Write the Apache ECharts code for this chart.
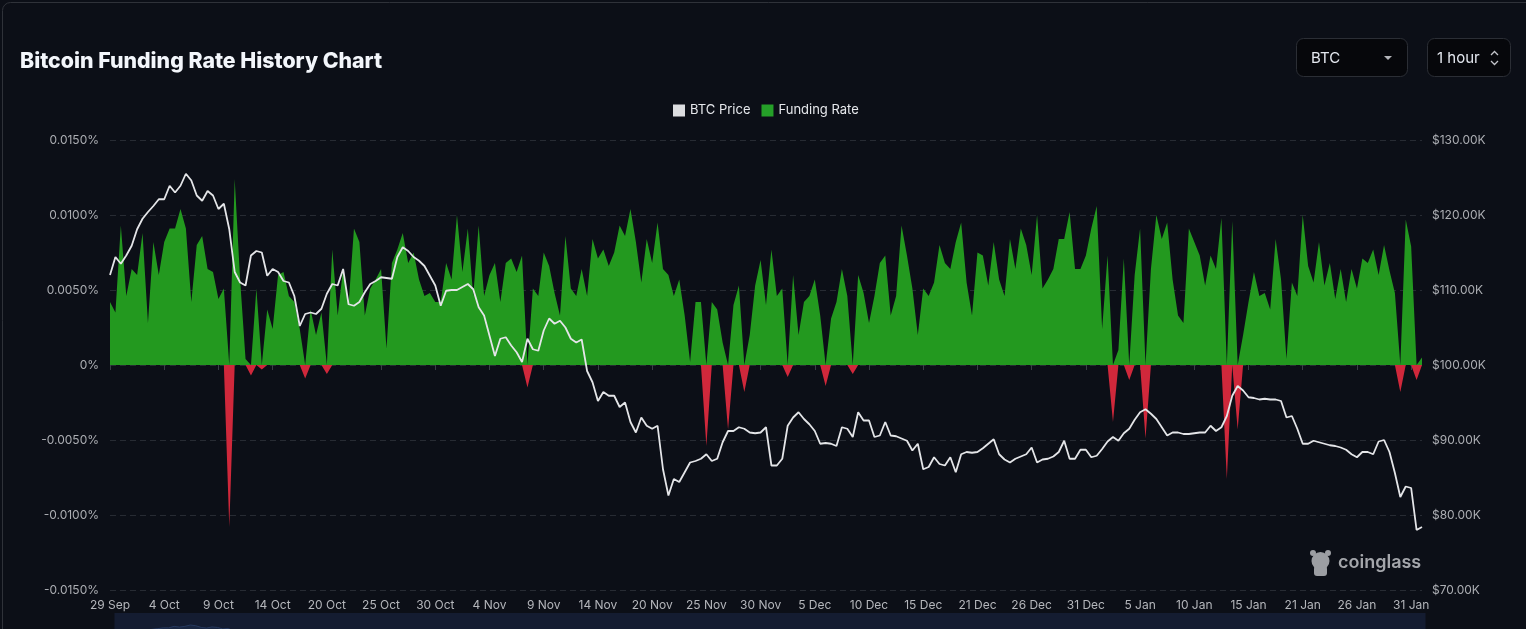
<!DOCTYPE html>
<html>
<head>
<meta charset="utf-8">
<title>Bitcoin Funding Rate History Chart</title>
<script src="https://cdn.jsdelivr.net/npm/echarts@6.0.0/dist/echarts.min.js"></script>
<style>
  html, body { margin: 0; padding: 0; background: #0c0f17; }
  #chart { width: 1526px; height: 629px; }
</style>
</head>
<body>
<div id="chart"></div>
<script>
// 29 Sep 08:00 onward, one point every 12.4 hours
const startTime = Date.UTC(2025, 8, 29, 8);
const stepHours = 12.4;

const tickLabels = ['29 Sep', '4 Oct', '9 Oct', '14 Oct', '20 Oct', '25 Oct', '30 Oct', '4 Nov', '9 Nov',
  '14 Nov', '20 Nov', '25 Nov', '30 Nov', '5 Dec', '10 Dec', '15 Dec', '21 Dec', '26 Dec', '31 Dec',
  '5 Jan', '10 Jan', '15 Jan', '21 Jan', '26 Jan', '31 Jan'];

// BTC price, thousands of USD
const priceK = [
  112.0, 114.4, 113.5, 114.6, 115.9, 118.1, 119.5, 120.4, 121.2, 122.1,
  122.1, 123.9, 123.0, 123.9, 125.5, 124.6, 122.6, 121.9, 123.2, 122.6,
  120.8, 121.5, 118.1, 112.4, 111.0, 110.6, 114.6, 115.2, 115.0, 111.9,
  112.8, 112.4, 111.2, 111.0, 109.2, 105.2, 106.8, 107.0, 106.8, 107.5,
  109.5, 110.8, 110.6, 112.8, 108.1, 107.9, 108.4, 109.7, 110.8, 111.2,
  111.7, 111.6, 111.5, 114.4, 115.7, 115.2, 114.4, 113.9, 113.2, 111.9,
  110.6, 107.9, 109.9, 110.0, 110.0, 110.4, 110.8, 110.1, 107.7, 106.6,
  103.9, 101.2, 103.5, 103.7, 102.6, 101.7, 100.4, 103.5, 102.1, 101.9,
  104.6, 106.2, 105.5, 105.9, 105.0, 103.5, 103.0, 103.4, 99.2, 97.7,
  95.2, 96.4, 95.9, 95.9, 94.4, 95.0, 92.4, 91.0, 93.0, 91.9,
  91.5, 91.9, 86.1, 82.6, 84.8, 84.4, 85.7, 87.0, 87.2, 87.5,
  88.1, 87.2, 87.5, 89.7, 91.2, 91.2, 91.7, 91.5, 91.0, 90.9,
  91.0, 91.7, 86.6, 86.6, 87.5, 91.9, 93.0, 93.7, 92.8, 92.1,
  91.2, 89.5, 89.6, 89.5, 89.2, 91.7, 91.5, 90.4, 93.7, 92.6,
  92.6, 90.4, 90.6, 92.4, 90.6, 90.5, 90.2, 89.9, 88.6, 89.5,
  86.1, 86.4, 87.7, 86.8, 86.6, 87.7, 85.7, 88.1, 88.4, 88.3,
  88.4, 88.9, 89.5, 90.1, 88.1, 87.4, 87.0, 87.5, 87.8, 88.1,
  89.0, 87.0, 87.4, 87.5, 87.8, 88.4, 89.9, 87.5, 87.5, 88.7,
  88.7, 87.7, 87.9, 88.8, 89.8, 90.4, 89.9, 90.9, 91.5, 92.7,
  93.7, 94.1, 93.5, 92.8, 91.7, 90.6, 91.0, 91.0, 90.8, 90.8,
  90.9, 91.0, 91.0, 91.9, 91.2, 91.7, 93.2, 95.9, 97.2, 96.6,
  95.7, 95.6, 95.4, 95.5, 95.4, 95.4, 95.2, 93.0, 93.2, 91.5,
  89.5, 89.5, 89.9, 89.7, 89.5, 89.3, 89.2, 89.0, 88.7, 88.1,
  87.7, 88.4, 88.4, 88.1, 89.8, 90.0, 88.4, 85.6, 82.4, 83.8,
  83.6, 78.0, 78.4
];

// funding rate, percent
const fundingRate = [
  0.0042, 0.0035, 0.0093, 0.0046, 0.0064, 0.0060, 0.0088, 0.0028, 0.0082, 0.0060,
  0.0082, 0.0091, 0.0091, 0.0104, 0.0091, 0.0042, 0.0080, 0.0086, 0.0064, 0.0062,
  0.0044, 0.0051, -0.0108, 0.0124, 0.0057, 0.0004, -0.0007, 0.0051, -0.0003, 0.0037,
  0.0024, 0.0060, 0.0062, 0.0046, 0.0042, 0.0024, -0.0009, 0.0037, 0.0020, 0.0035,
  -0.0006, 0.0077, 0.0033, 0.0064, 0.0040, 0.0091, 0.0082, 0.0033, 0.0051, 0.0057,
  0.0064, 0.0011, 0.0068, 0.0077, 0.0088, 0.0068, 0.0075, 0.0057, 0.0046, 0.0048,
  0.0042, 0.0042, 0.0068, 0.0057, 0.0100, 0.0062, 0.0091, 0.0046, 0.0093, 0.0046,
  0.0060, 0.0068, 0.0042, 0.0068, 0.0071, 0.0062, 0.0073, -0.0015, 0.0051, 0.0046,
  0.0075, 0.0066, 0.0048, 0.0033, 0.0086, 0.0051, 0.0046, 0.0064, 0.0046, 0.0084,
  0.0071, 0.0077, 0.0066, 0.0075, 0.0093, 0.0086, 0.0104, 0.0082, 0.0055, 0.0084,
  0.0068, 0.0095, 0.0064, 0.0060, 0.0046, 0.0057, 0.0033, 0.0002, 0.0042, 0.0042,
  -0.0054, 0.0042, 0.0037, 0.0015, -0.0043, 0.0040, 0.0053, -0.0018, 0.0020, 0.0053,
  0.0070, 0.0040, 0.0077, 0.0046, 0.0051, -0.0008, 0.0060, 0.0020, 0.0042, 0.0046,
  0.0057, 0.0033, -0.0014, 0.0031, 0.0042, 0.0064, 0.0046, -0.0006, 0.0060, 0.0048,
  0.0028, 0.0046, 0.0068, 0.0073, 0.0033, 0.0046, 0.0093, 0.0073, 0.0051, 0.0020,
  0.0051, 0.0046, 0.0055, 0.0080, 0.0068, 0.0064, 0.0082, 0.0095, 0.0055, 0.0033,
  0.0075, 0.0073, 0.0053, 0.0082, 0.0057, 0.0046, 0.0084, 0.0064, 0.0091, 0.0080,
  0.0060, 0.0100, 0.0051, 0.0057, 0.0064, 0.0084, 0.0084, 0.0102, 0.0064, 0.0064,
  0.0073, 0.0091, 0.0106, 0.0024, 0.0073, -0.0038, 0.0010, 0.0071, -0.0010, 0.0060,
  0.0091, -0.0049, 0.0064, 0.0100, 0.0084, 0.0095, 0.0057, 0.0033, 0.0028, 0.0091,
  0.0082, 0.0073, 0.0053, 0.0073, 0.0064, 0.0098, -0.0076, 0.0096, -0.0043, 0.0020,
  0.0042, 0.0062, 0.0046, 0.0048, 0.0037, 0.0084, 0.0057, 0.0004, 0.0055, 0.0046,
  0.0100, 0.0066, 0.0055, 0.0082, 0.0053, 0.0068, 0.0044, 0.0064, 0.0042, 0.0064,
  0.0051, 0.0071, 0.0068, 0.0077, 0.0060, 0.0080, 0.0063, 0.0048, -0.0018, 0.0097,
  0.0079, -0.0010, 0.0005
];

const categories = priceK.map(function (_, i) {
  return new Date(startTime + i * stepHours * 3600 * 1000).toISOString().slice(0, 13);
});

// positive part drawn green, negative part red
const fundingUp = fundingRate.map(function (v) { return v > 0 ? v : 0; });
const fundingDown = fundingRate.map(function (v) { return v < 0 ? v : 0; });

const labelColor = '#acaeb3';
const fontFamily = 'Inter, "Noto Sans", sans-serif';
const green = '#23991f';
const red = '#d0283b';

let option = {
  backgroundColor: '#0c0f17',
  animation: false,
  textStyle: { fontFamily: fontFamily },
  title: {
    text: 'Bitcoin Funding Rate History Chart',
    left: 15,
    top: 46,
    textStyle: { color: '#f3f6fb', fontSize: 21.3, fontWeight: 800, fontFamily: fontFamily }
  },
  legend: {
    top: 99,
    left: 668,
    icon: 'rect',
    itemWidth: 12,
    itemHeight: 12,
    itemGap: 11,
    textStyle: { color: '#e6e8ec', fontSize: 13 },
    data: [
      { name: 'BTC Price', itemStyle: { color: '#dcdde0' } },
      { name: 'Funding Rate', itemStyle: { color: '#25a028' } }
    ]
  },
  grid: {
    left: 110,
    right: 104,
    top: 140,
    bottom: 39
  },
  xAxis: [
    {
      type: 'category',
      data: categories,
      boundaryGap: false,
      axisLine: { show: false, onZero: false },
      axisTick: { show: false },
      splitLine: { show: false },
      axisLabel: {
        interval: 9,
        margin: 9,
        color: '#b4b6bb',
        fontSize: 12,
        formatter: function (value, index) {
          return tickLabels[index / 10] || '';
        }
      }
    },
    {
      // ticks sitting on the zero line
      type: 'category',
      data: categories,
      position: 'bottom',
      boundaryGap: false,
      axisLine: { show: false, onZero: true },
      axisTick: { show: true, interval: 9, length: 5, lineStyle: { color: '#3a3e46' } },
      axisLabel: { show: false },
      splitLine: { show: false }
    }
  ],
  yAxis: [
    {
      type: 'value',
      min: -0.015,
      max: 0.015,
      interval: 0.005,
      axisLine: { show: false },
      axisTick: { show: false },
      splitLine: { lineStyle: { color: '#272b33', type: [6, 4] } },
      axisLabel: {
        color: labelColor,
        fontSize: 12,
        margin: 11,
        formatter: function (v) {
          return Math.abs(v) < 1e-9 ? '0%' : v.toFixed(4) + '%';
        }
      }
    },
    {
      type: 'value',
      position: 'right',
      min: 70,
      max: 130,
      interval: 10,
      axisLine: { show: false },
      axisTick: { show: false },
      splitLine: { show: false },
      axisLabel: {
        color: labelColor,
        fontSize: 12,
        margin: 10,
        formatter: function (v) {
          return '$' + v.toFixed(2) + 'K';
        }
      }
    }
  ],
  dataZoom: [
    {
      type: 'slider',
      xAxisIndex: 0,
      start: 0,
      end: 100,
      left: 112,
      right: 103,
      top: 613,
      height: 64,
      showDetail: false,
      brushSelect: false,
      moveHandleSize: 0,
      handleSize: 0,
      handleStyle: { opacity: 0 },
      borderColor: 'transparent',
      backgroundColor: '#0f1523',
      fillerColor: 'rgba(24, 34, 58, 0.6)',
      dataBackground: {
        lineStyle: { color: '#3b5a92', width: 1 },
        areaStyle: { color: '#1d2d4c', opacity: 1 }
      },
      selectedDataBackground: {
        lineStyle: { color: '#3b5a92', width: 1 },
        areaStyle: { color: '#1d2d4c', opacity: 1 }
      }
    }
  ],
  graphic: [
    {
      type: 'rect',
      shape: { x: 2.5, y: 2.5, width: 1560, height: 700, r: 8 },
      style: { fill: 'none', stroke: '#2f3239', lineWidth: 1 },
      silent: true
    },
    {
      type: 'rect',
      shape: { x: 1296.5, y: 38.5, width: 111, height: 38, r: 7 },
      style: { fill: '#06070b', stroke: '#2b2e35', lineWidth: 1 }
    },
    {
      type: 'text',
      x: 1311, y: 58,
      style: { text: 'BTC', fill: '#e4e8f0', font: '15px ' + fontFamily, textVerticalAlign: 'middle' }
    },
    {
      type: 'polygon',
      shape: { points: [[1384, 56], [1392, 56], [1388, 60]] },
      style: { fill: '#b3b5ba' }
    },
    {
      type: 'rect',
      shape: { x: 1427.5, y: 38.5, width: 83, height: 38, r: 7 },
      style: { fill: '#06070b', stroke: '#2b2e35', lineWidth: 1 }
    },
    {
      type: 'text',
      x: 1437, y: 58,
      style: { text: '1 hour', fill: '#e4e8f0', font: '15px ' + fontFamily, textVerticalAlign: 'middle' }
    },
    {
      type: 'polyline',
      shape: { points: [[1491, 55], [1494.5, 51.5], [1498, 55]] },
      style: { stroke: '#c3c5ca', lineWidth: 1.3, fill: 'none' }
    },
    {
      type: 'polyline',
      shape: { points: [[1491, 61], [1494.5, 64.5], [1498, 61]] },
      style: { stroke: '#c3c5ca', lineWidth: 1.3, fill: 'none' }
    },
    {
      // coinglass watermark
      type: 'group',
      z: 100,
      silent: true,
      children: [
        { type: 'circle', shape: { cx: 1313, cy: 553, r: 3 }, style: { fill: '#9c9ea3' } },
        { type: 'circle', shape: { cx: 1328, cy: 553, r: 3 }, style: { fill: '#9c9ea3' } },
        { type: 'circle', shape: { cx: 1320.5, cy: 561, r: 9 }, style: { fill: '#9c9ea3' } },
        { type: 'rect', shape: { x: 1314, y: 566, width: 13, height: 10, r: 3 }, style: { fill: '#9c9ea3' } },
        {
          type: 'text',
          x: 1338, y: 563,
          style: { text: 'coinglass', fill: '#a4a6ab', font: '600 18px ' + fontFamily, textVerticalAlign: 'middle' }
        }
      ]
    }
  ],
  series: [
    {
      name: 'BTC Price',
      type: 'line',
      xAxisIndex: 0,
      yAxisIndex: 1,
      data: priceK,
      color: '#e4e5e8',
      symbol: 'none',
      lineStyle: { width: 1.8, color: '#e4e5e8' },
      z: 5
    },
    {
      name: 'Funding Rate',
      type: 'line',
      xAxisIndex: 0,
      yAxisIndex: 0,
      data: fundingUp,
      color: green,
      symbol: 'none',
      lineStyle: { width: 0 },
      areaStyle: { color: green, opacity: 1 },
      z: 2
    },
    {
      name: 'Funding Rate',
      type: 'line',
      xAxisIndex: 0,
      yAxisIndex: 0,
      data: fundingDown,
      color: red,
      symbol: 'none',
      lineStyle: { width: 0 },
      areaStyle: { color: red, opacity: 1 },
      z: 2
    }
  ]
};

const myChart = echarts.init(document.getElementById('chart'));
myChart.setOption(option);
</script>
</body>
</html>
